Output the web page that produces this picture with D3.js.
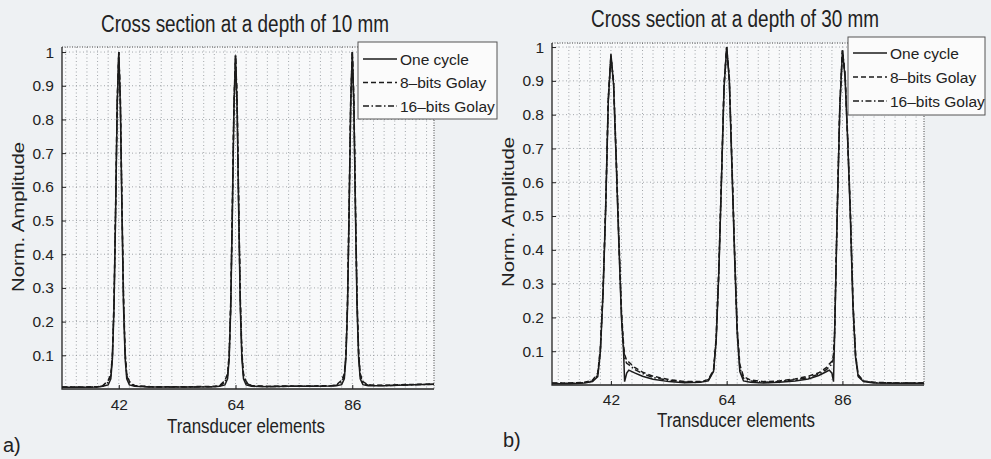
<!DOCTYPE html>
<html lang="en">
<head>
<meta charset="utf-8">
<title>Cross sections</title>
<style>
  body { margin: 0; background: #eef1f3; }
  svg { display: block; font-family: "Liberation Sans", Arial, sans-serif; fill: #222; }
  .grid line { stroke: #8d9297; stroke-width: 0.8; stroke-dasharray: 1,2.5; }
  .frame { stroke: #222; stroke-width: 1.3; fill: none; }
  .frame-dot { stroke: #444; stroke-width: 1; stroke-dasharray: 1,1.5; fill: none; }
  .tickmark { stroke: #222; stroke-width: 1; }
  .curve { fill: none; stroke: #1b1b1b; stroke-width: 1.5; }
</style>
</head>
<body>
<div id="chart"></div>
<script src="https://cdn.jsdelivr.net/npm/d3@7"></script>
<script>
var width = 991, height = 459;

// depth 10 mm : sampled transducer element positions and amplitudes
var elements10 = [31.3, 35, 38,
  39, 40, 40.5, 40.8, 41.1, 41.4, 41.7, 42, 42.3, 42.6, 42.9, 43.2, 43.5, 44, 45,
  48, 52, 56, 60,
  61, 62, 62.5, 62.8, 63.1, 63.4, 63.7, 64, 64.3, 64.6, 64.9, 65.2, 65.5, 66, 67,
  70, 74, 78, 82,
  83, 84, 84.5, 84.8, 85.1, 85.4, 85.7, 86, 86.3, 86.6, 86.9, 87.2, 87.5, 88, 89,
  92, 96, 101.4];
var oneCycle10 = [0.005, 0.005, 0.006,
  0.008, 0.012, 0.03, 0.09, 0.24, 0.52, 0.84, 1.0, 0.84, 0.52, 0.24, 0.09, 0.03, 0.012, 0.008,
  0.006, 0.006, 0.006, 0.007,
  0.008, 0.012, 0.03, 0.09, 0.24, 0.52, 0.83, 0.99, 0.83, 0.52, 0.24, 0.09, 0.03, 0.012, 0.008,
  0.007, 0.008, 0.008, 0.009,
  0.01, 0.013, 0.03, 0.09, 0.24, 0.52, 0.84, 1.0, 0.84, 0.52, 0.24, 0.09, 0.03, 0.013, 0.01,
  0.01, 0.012, 0.014];
var golay8_10 = [0.006, 0.006, 0.007,
  0.01, 0.025, 0.045, 0.1, 0.26, 0.54, 0.85, 1.0, 0.86, 0.55, 0.27, 0.11, 0.045, 0.022, 0.01,
  0.007, 0.007, 0.007, 0.008,
  0.01, 0.025, 0.045, 0.1, 0.26, 0.54, 0.85, 0.99, 0.86, 0.55, 0.27, 0.11, 0.045, 0.022, 0.01,
  0.008, 0.009, 0.009, 0.01,
  0.012, 0.026, 0.045, 0.1, 0.26, 0.54, 0.85, 1.0, 0.86, 0.55, 0.27, 0.11, 0.045, 0.022, 0.012,
  0.011, 0.013, 0.015];
var golay16_10 = [0.005, 0.005, 0.006,
  0.009, 0.02, 0.04, 0.1, 0.25, 0.53, 0.85, 1.0, 0.85, 0.54, 0.26, 0.1, 0.04, 0.018, 0.009,
  0.006, 0.006, 0.006, 0.007,
  0.009, 0.02, 0.04, 0.1, 0.25, 0.53, 0.84, 0.99, 0.85, 0.54, 0.26, 0.1, 0.04, 0.018, 0.009,
  0.007, 0.008, 0.008, 0.009,
  0.011, 0.02, 0.04, 0.1, 0.25, 0.53, 0.85, 1.0, 0.85, 0.54, 0.26, 0.1, 0.04, 0.018, 0.011,
  0.01, 0.012, 0.014];

// depth 30 mm
var elements30 = [30.8, 34, 37, 38.5, 39.5, 40, 40.5, 41, 41.5, 42,
  42.5, 43, 43.5, 44, 44.4, 44.6, 45, 45.4, 46.5, 48,
  50, 53, 56, 59, 60.5, 61.5, 62, 62.5, 63, 63.5,
  64, 64.5, 65, 65.5, 66, 66.5, 67.2, 68.5, 71, 74,
  77, 79.5, 81.5, 83, 83.5, 84, 84.3, 84.5, 85, 85.5,
  86, 86.5, 87, 87.5, 88, 88.5, 89, 90, 92, 96, 101.5];
var oneCycle30 = [0.004, 0.004, 0.006, 0.01, 0.025, 0.1, 0.27, 0.52, 0.84, 0.98,
  0.89, 0.66, 0.42, 0.2, 0.1, 0.01, 0.035, 0.044, 0.036, 0.026,
  0.017, 0.01, 0.007, 0.008, 0.012, 0.04, 0.13, 0.33, 0.6, 0.88,
  1.0, 0.9, 0.64, 0.38, 0.15, 0.04, 0.012, 0.008, 0.006, 0.008,
  0.012, 0.018, 0.028, 0.04, 0.044, 0.035, 0.01, 0.14, 0.5, 0.82,
  0.99, 0.91, 0.72, 0.5, 0.23, 0.08, 0.025, 0.01, 0.006, 0.005, 0.005];
var golay8_30 = [0.006, 0.006, 0.008, 0.014, 0.035, 0.11, 0.28, 0.53, 0.85, 0.97,
  0.9, 0.68, 0.44, 0.22, 0.12, 0.09, 0.072, 0.068, 0.052, 0.038,
  0.026, 0.016, 0.01, 0.01, 0.016, 0.045, 0.14, 0.34, 0.61, 0.89,
  1.0, 0.91, 0.66, 0.4, 0.17, 0.06, 0.025, 0.015, 0.01, 0.012,
  0.018, 0.026, 0.036, 0.052, 0.062, 0.07, 0.09, 0.15, 0.51, 0.83,
  0.99, 0.92, 0.73, 0.52, 0.25, 0.09, 0.03, 0.012, 0.008, 0.006, 0.006];
var golay16_30 = [0.005, 0.005, 0.007, 0.012, 0.03, 0.105, 0.275, 0.525, 0.845, 0.975,
  0.895, 0.67, 0.43, 0.21, 0.11, 0.08, 0.064, 0.06, 0.046, 0.034,
  0.022, 0.014, 0.009, 0.009, 0.014, 0.042, 0.135, 0.335, 0.605, 0.885,
  1.0, 0.905, 0.65, 0.39, 0.16, 0.05, 0.02, 0.012, 0.008, 0.01,
  0.016, 0.022, 0.032, 0.046, 0.055, 0.062, 0.08, 0.145, 0.505, 0.825,
  0.99, 0.915, 0.725, 0.51, 0.24, 0.085, 0.028, 0.011, 0.007, 0.006, 0.006];

var seriesNames = ["One cycle", "8\u2013bits Golay", "16\u2013bits Golay"];
var xTicks = [42, 64, 86];
var yTicks = [0.1, 0.2, 0.3, 0.4, 0.5, 0.6, 0.7, 0.8, 0.9, 1];
var xGrid = d3.range(32, 101, 2);
var dashes = [null, "5,3", "6,2.5,1.5,2.5"];

var panels = [
  { id: "a", title: "Cross section at a depth of 10 mm", tag: "a)",
    xs: elements10, ys: [oneCycle10, golay8_10, golay16_10],
    xDomain: [31.3, 101.4], yMax: 1.015,
    left: 62, right: 434, top: 47, bottom: 389,
    titleY: 32, xTickY: 410, xLabelY: 433, yLabelX: 18, yLabelY: 217,
    tagX: 3, tagY: 452, legend: { x: 358, y: 42, w: 139, h: 77, row0: 17, step: 23.5 } },
  { id: "b", title: "Cross section at a depth of 30 mm", tag: "b)",
    xs: elements30, ys: [oneCycle30, golay8_30, golay16_30],
    xDomain: [30.8, 101.5], yMax: 1.012,
    left: 552, right: 924, top: 43, bottom: 385,
    titleY: 27, xTickY: 405, xLabelY: 427, yLabelX: 508, yLabelY: 212,
    tagX: 503, tagY: 447, legend: { x: 848, y: 37, w: 137, h: 78, row0: 16, step: 24 } }
];

var svg = d3.select("#chart").append("svg")
    .attr("width", width)
    .attr("height", height);

panels.forEach(function(p) {
  var x = d3.scaleLinear().domain(p.xDomain).range([p.left, p.right]);
  var y = d3.scaleLinear().domain([0, p.yMax]).range([p.bottom, p.top]);
  var g = svg.append("g");

  g.append("rect")
      .attr("x", p.left).attr("y", p.top)
      .attr("width", p.right - p.left).attr("height", p.bottom - p.top)
      .attr("fill", "#f8f9fa");

  var grid = g.append("g").attr("class", "grid");
  grid.selectAll(".gx").data(xGrid).enter().append("line")
      .attr("x1", d => x(d)).attr("x2", d => x(d))
      .attr("y1", p.top).attr("y2", p.bottom);
  grid.selectAll(".gy").data(yTicks).enter().append("line")
      .attr("x1", p.left).attr("x2", p.right)
      .attr("y1", d => y(d)).attr("y2", d => y(d));

  // axes, MATLAB style ticks pointing inward
  var xAxis = d3.axisBottom(x).tickValues(xTicks).tickSize(-4).tickPadding(10);
  var yAxis = d3.axisLeft(y).tickValues(yTicks).tickSize(-4).tickPadding(8)
      .tickFormat(d => d === 1 ? "1" : d3.format(".1f")(d));

  var gx = g.append("g").attr("transform", "translate(0," + p.bottom + ")").call(xAxis);
  var gy = g.append("g").attr("transform", "translate(" + p.left + ",0)").call(yAxis);
  [gx, gy].forEach(function(a) {
    a.select(".domain").remove();
    a.selectAll(".tick line").attr("class", "tickmark");
    a.selectAll("text").attr("font-size", 15.5).attr("fill", "#222")
        .attr("font-family", "Liberation Sans, Arial, sans-serif");
  });
  gx.selectAll("text").attr("dy", null).attr("y", p.xTickY - p.bottom);

  // frame
  g.append("path").attr("class", "frame-dot")
      .attr("d", "M" + p.left + "," + p.top + "H" + p.right + "V" + p.bottom);
  g.append("path").attr("class", "frame")
      .attr("d", "M" + p.left + "," + p.top + "V" + p.bottom + "H" + p.right);

  // curves
  g.append("clipPath").attr("id", "clip-" + p.id).append("rect")
      .attr("x", p.left).attr("y", p.top - 2)
      .attr("width", p.right - p.left).attr("height", p.bottom - p.top + 2);

  var line = d3.line()
      .x((d, i) => x(p.xs[i]))
      .y(d => y(d));

  p.ys.forEach(function(vals, k) {
    g.append("path")
        .attr("class", "curve")
        .attr("clip-path", "url(#clip-" + p.id + ")")
        .attr("stroke-dasharray", dashes[k])
        .attr("d", line(vals));
  });

  // legend
  var L = p.legend;
  var lg = g.append("g").attr("transform", "translate(" + L.x + "," + L.y + ")");
  lg.append("rect").attr("width", L.w).attr("height", L.h)
      .attr("fill", "#fbfbfb").attr("stroke", "#555").attr("stroke-width", 1);
  seriesNames.forEach(function(name, k) {
    var ry = L.row0 + k * L.step;
    lg.append("line").attr("class", "curve")
        .attr("x1", 5).attr("x2", 39).attr("y1", ry).attr("y2", ry)
        .attr("stroke-width", 1.3)
        .attr("stroke-dasharray", dashes[k]);
    lg.append("text").attr("x", 42).attr("y", ry + 5.5)
        .attr("font-size", 15.5).text(name);
  });

  // titles and labels
  g.append("text")
      .attr("x", (p.left + p.right) / 2 - 3).attr("y", p.titleY)
      .attr("text-anchor", "middle").attr("font-size", 23)
      .attr("textLength", 288).attr("lengthAdjust", "spacingAndGlyphs")
      .text(p.title);
  g.append("text")
      .attr("x", (p.left + p.right) / 2 - 2).attr("y", p.xLabelY)
      .attr("text-anchor", "middle").attr("font-size", 20)
      .attr("textLength", 158).attr("lengthAdjust", "spacingAndGlyphs")
      .text("Transducer elements");
  g.append("text")
      .attr("transform", "translate(" + p.yLabelX + "," + p.yLabelY + ") rotate(-90)")
      .attr("text-anchor", "middle").attr("dominant-baseline", "central")
      .attr("font-size", 16)
      .attr("textLength", 150).attr("lengthAdjust", "spacingAndGlyphs")
      .text("Norm. Amplitude");
  g.append("text")
      .attr("x", p.tagX).attr("y", p.tagY)
      .attr("font-size", 20)
      .text(p.tag);
});
</script>
</body>
</html>
